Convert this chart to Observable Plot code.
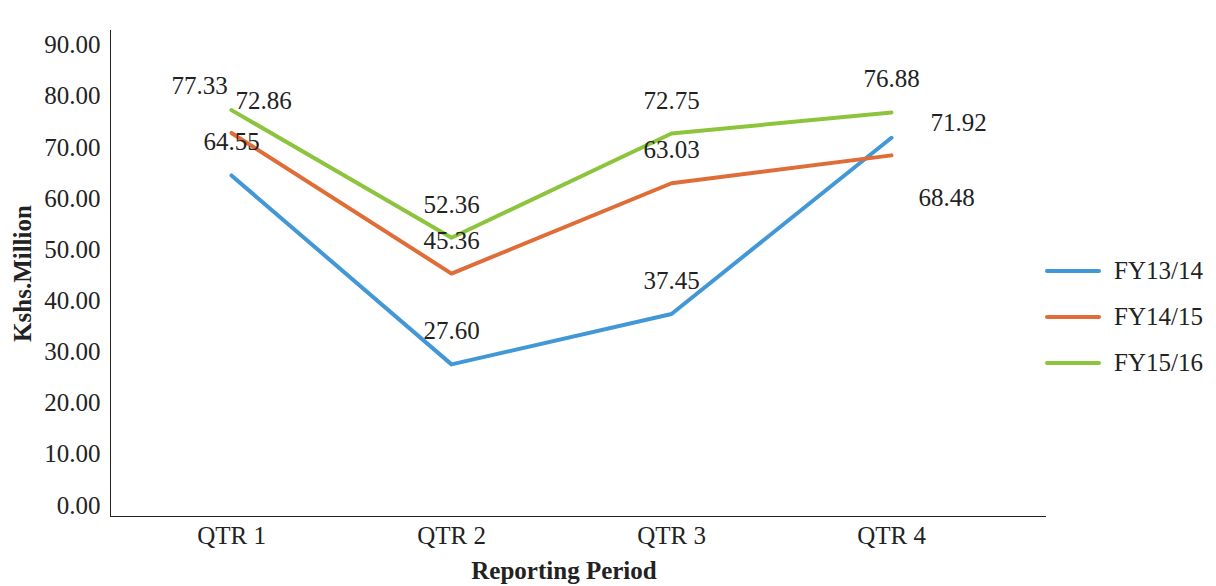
<!DOCTYPE html>
<html>
<head>
<meta charset="utf-8">
<script src="https://cdn.jsdelivr.net/npm/d3@7"></script>
<script src="https://cdn.jsdelivr.net/npm/@observablehq/plot@0.6"></script>
<style>
  body { margin: 0; background: #fff; }
  #wrap { position: relative; width: 1216px; height: 586px; font-family: "Liberation Serif", serif; color: #222; }
  #wrap svg text, #wrap svg g { font-family: "Liberation Serif", serif !important; font-variant: normal !important; }
  #legend { position: absolute; left: 1045px; top: 248px; }
  .item { display: flex; align-items: center; height: 46px; font-size: 25px; font-family: "Liberation Serif", serif; }
  .item svg { margin-right: 13px; }
</style>
</head>
<body>
<div id="wrap"><div id="legend"></div></div>
<script>
const quarters = ["QTR 1", "QTR 2", "QTR 3", "QTR 4"];
const seriesNames = ["FY13/14", "FY14/15", "FY15/16"];
const fy1314 = [64.55, 27.60, 37.45, 71.92];
const fy1415 = [72.86, 45.36, 63.03, 68.48];
const fy1516 = [77.33, 52.36, 72.75, 76.88];
const seriesColors = ["#4298d6", "#e06c37", "#8dc43d"];
const yTicks = [0, 10, 20, 30, 40, 50, 60, 70, 80, 90];

const seriesValues = [fy1314, fy1415, fy1516];
const rows = [];
seriesNames.forEach((s, i) => quarters.forEach((q, j) => rows.push({s, q, v: seriesValues[i][j]})));

const isSpecial = (d) =>
  (d.q === "QTR 1" && d.s !== "FY13/14") || (d.q === "QTR 4" && d.s !== "FY15/16");
const pick = (s, q) => (d) => d.s === s && d.q === q;
const fmt = (d) => d.v.toFixed(2);
const serif = "Liberation Serif";

const chart = Plot.plot({
  width: 1216,
  height: 586,
  marginLeft: 110,
  marginRight: 171,
  marginTop: 30,
  marginBottom: 70,
  style: { fontFamily: serif, fontSize: "25px", color: "#222", background: "#fff" },
  x: { type: "point", domain: quarters, padding: 0.622, align: 0.441, label: null, tickSize: 0, tickPadding: 10, line: true },
  y: { domain: [-2.15, 92.9], ticks: yTicks, tickFormat: (d) => d.toFixed(2), label: null, tickSize: 0, tickPadding: 10, line: true },
  color: { domain: seriesNames, range: seriesColors },
  marks: [
    Plot.line(rows, { x: "q", y: "v", z: "s", stroke: "s", strokeWidth: 4 }),
    Plot.text(rows, { x: "q", y: "v", text: fmt, filter: (d) => !isSpecial(d), dy: -33, fill: "#222", fontFamily: serif }),
    Plot.text(rows, { x: "q", y: "v", text: fmt, filter: pick("FY15/16", "QTR 1"), dx: -32, dy: -24, fill: "#222", fontFamily: serif }),
    Plot.text(rows, { x: "q", y: "v", text: fmt, filter: pick("FY14/15", "QTR 1"), dx: 32, dy: -32, fill: "#222", fontFamily: serif }),
    Plot.text(rows, { x: "q", y: "v", text: fmt, filter: pick("FY13/14", "QTR 4"), dx: 67, dy: -15, fill: "#222", fontFamily: serif }),
    Plot.text(rows, { x: "q", y: "v", text: fmt, filter: pick("FY14/15", "QTR 4"), dx: 55, dy: 43, fill: "#222", fontFamily: serif }),
    Plot.text(["Kshs.Million"], { frameAnchor: "left", textAnchor: "middle", dx: -88, rotate: -90, fontWeight: "bold", fontSize: 25, fill: "#222", fontFamily: serif }),
    Plot.text(["Reporting Period"], { frameAnchor: "bottom", dx: -14, dy: 62, fontWeight: "bold", fontSize: 25, fill: "#222", fontFamily: serif })
  ]
});
document.getElementById("wrap").prepend(chart);

const legend = document.getElementById("legend");
seriesNames.forEach((s, i) => {
  const div = document.createElement("div");
  div.className = "item";
  div.innerHTML = `<svg width="56" height="8"><line x1="2" x2="54" y1="4" y2="4" stroke="${seriesColors[i]}" stroke-width="4" stroke-linecap="round"/></svg><span>${s}</span>`;
  legend.appendChild(div);
});
</script>
</body>
</html>
